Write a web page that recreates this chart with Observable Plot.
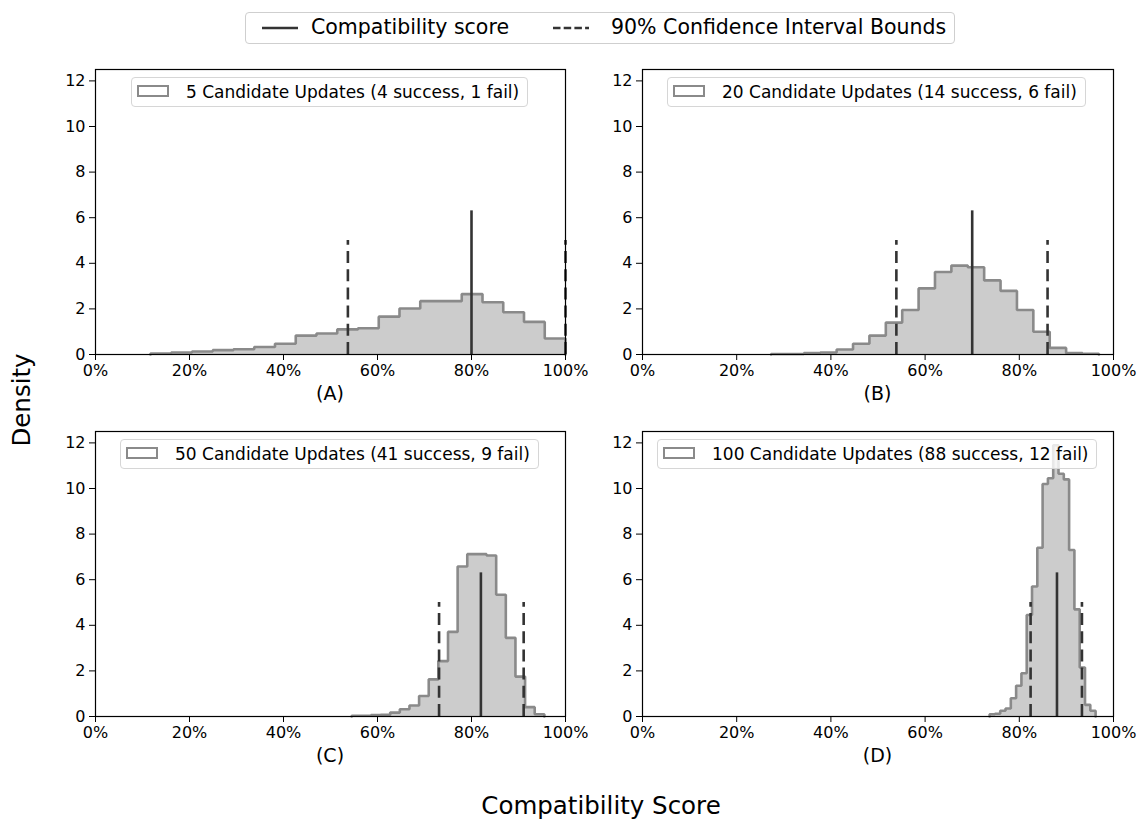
<!DOCTYPE html>
<html>
<head>
<meta charset="utf-8">
<script src="https://cdn.jsdelivr.net/npm/d3@7"></script>
<script src="https://cdn.jsdelivr.net/npm/@observablehq/plot@0.6"></script>
<style>
  body { margin: 0; background: #fff; font-family: "DejaVu Sans", sans-serif; }
  #fig { position: relative; width: 1146px; height: 820px; background: #fff; overflow: hidden; }
  .cell { position: absolute; }
  .cell svg { overflow: visible; }
  .legend-top {
    position: absolute; left: 245px; top: 12px; width: 708px; height: 30px;
    border: 1px solid #cfcfcf; border-radius: 4px; background: #fff;
    font-size: 20.5px; color: #000;
  }
  .legend-top svg { position: absolute; }
  .legend-top span { position: absolute; top: 2px; white-space: nowrap; }
  .legend-in {
    position: absolute; height: 28px; padding-right: 8px;
    border: 1px solid #d6d6d6; border-radius: 4px; background: rgba(255,255,255,0.8);
    font-size: 17px; color: #000; white-space: nowrap;
  }
  .legend-in .patch {
    position: absolute; left: 5px; top: 7px; width: 28px; height: 8px;
    border: 2.6px solid #8a8a8a; background: rgba(255,255,255,0.6);
  }
  .legend-in span { display: inline-block; margin-left: 54px; line-height: 28px; }
  .panel-label { position: absolute; font-size: 19px; transform: translate(-50%, -50%); white-space: nowrap; }
  .fig-label { position: absolute; font-size: 24.5px; white-space: nowrap; transform: translate(-50%, -50%); }
</style>
</head>
<body>
<div id="fig"></div>
<script>
// ---- data -------------------------------------------------------------
const panelNames = ["(A)", "(B)", "(C)", "(D)"];
const legendLabels = [
  "5 Candidate Updates (4 success, 1 fail)",
  "20 Candidate Updates (14 success, 6 fail)",
  "50 Candidate Updates (41 success, 9 fail)",
  "100 Candidate Updates (88 success, 12 fail)"
];
// first and last histogram bin edge (20 equal-width bins each)
const binStart = [0.117, 0.273, 0.545, 0.737];
const binEnd = [1.0, 0.969, 0.955, 0.962];
const densityA = [0.04, 0.09, 0.13, 0.19, 0.23, 0.33, 0.47, 0.83, 0.92, 1.10, 1.15, 1.66, 2.02, 2.34, 2.34, 2.65, 2.29, 1.85, 1.43, 0.70];
const densityB = [0.02, 0.02, 0.06, 0.09, 0.22, 0.47, 0.83, 1.40, 1.95, 2.90, 3.62, 3.90, 3.83, 3.25, 2.79, 1.95, 1.00, 0.29, 0.06, 0.03];
const densityC = [0.03, 0.03, 0.06, 0.07, 0.17, 0.32, 0.48, 0.90, 1.63, 2.43, 3.71, 6.58, 7.12, 7.12, 7.06, 5.34, 3.45, 1.75, 0.41, 0.10];
const densityD = [0.10, 0.12, 0.25, 0.35, 0.80, 1.35, 1.90, 4.45, 5.70, 7.40, 10.20, 10.45, 11.90, 10.65, 10.40, 7.30, 4.70, 2.15, 0.51, 0.25];
const scores = [0.80, 0.70, 0.82, 0.88];
const ciLower = [0.537, 0.539, 0.731, 0.824];
const ciUpper = [1.0, 0.860, 0.911, 0.933];
const scoreMarkerHeight = 6.3;
const ciMarkerHeight = 5;
const xTicks = [0, 0.2, 0.4, 0.6, 0.8, 1];
const yTicks = [0, 2, 4, 6, 8, 10, 12];
const yMax = 12.5;

const densities = [densityA, densityB, densityC, densityD];

// ---- layout -------------------------------------------------------------
const cells = [
  {left: 0,   top: 60,  mL: 95, mR: 8,  legendLeft: 131},
  {left: 573, top: 60,  mL: 69, mR: 33, legendLeft: 667},
  {left: 0,   top: 422, mL: 95, mR: 8,  legendLeft: 120},
  {left: 573, top: 422, mL: 69, mR: 33, legendLeft: 657}
];
const cellW = 573, cellH = 340, mTop = 9, mBottom = 46;
const dashPattern = "12,6.2";

const fig = document.getElementById("fig");

// closed step outline of a histogram (stepfilled style)
function histogramOutline(lo, hi, dens) {
  const n = dens.length, w = (hi - lo) / n;
  const pts = [{x: lo, y: 0}];
  dens.forEach((d, i) => {
    pts.push({x: lo + i * w, y: d}, {x: lo + (i + 1) * w, y: d});
  });
  pts.push({x: hi, y: 0});
  return pts;
}

cells.forEach((cell, i) => {
  const outline = histogramOutline(binStart[i], binEnd[i], densities[i]);
  const chart = Plot.plot({
    width: cellW,
    height: cellH,
    marginLeft: cell.mL,
    marginRight: cell.mR,
    marginTop: mTop,
    marginBottom: mBottom,
    x: {domain: [0, 1]},
    y: {domain: [0, yMax]},
    style: {
      fontFamily: '"DejaVu Sans", sans-serif',
      fontSize: "16px",
      color: "#000",
      background: "transparent",
      overflow: "visible"
    },
    marks: [
      // unstacked fill under the step outline
      Plot.area(outline, {x1: "x", y1: () => 0, y2: "y", fill: "#cccccc"}),
      Plot.line(outline, {x: "x", y: "y", stroke: "#8a8a8a", strokeWidth: 2.6, strokeLinejoin: "miter"}),
      Plot.ruleX([ciLower[i], ciUpper[i]], {
        x: d => d, y1: () => 0, y2: () => ciMarkerHeight,
        stroke: "#333", strokeWidth: 2.6, strokeDasharray: dashPattern
      }),
      Plot.ruleX([scores[i]], {
        x: d => d, y1: () => 0, y2: () => scoreMarkerHeight,
        stroke: "#333", strokeWidth: 2.6
      }),
      Plot.frame({stroke: "#000", strokeWidth: 1.2}),
      Plot.axisX({ticks: xTicks, tickFormat: d3.format(".0%"), tickSize: 6, tickPadding: 4, label: null}),
      Plot.axisY({ticks: yTicks, tickSize: 6, tickPadding: 4, label: null})
    ]
  });
  const holder = document.createElement("div");
  holder.className = "cell";
  holder.style.left = cell.left + "px";
  holder.style.top = cell.top + "px";
  holder.appendChild(chart);
  fig.appendChild(holder);

  // in-panel legend
  const leg = document.createElement("div");
  leg.className = "legend-in";
  leg.style.left = cell.legendLeft + "px";
  leg.style.top = (cell.top + mTop + 8) + "px";
  leg.innerHTML = `<div class="patch"></div><span>${legendLabels[i]}</span>`;
  fig.appendChild(leg);

  // panel label under the axis
  const lab = document.createElement("div");
  lab.className = "panel-label";
  lab.textContent = panelNames[i];
  lab.style.left = (cell.left + cell.mL + (cellW - cell.mL - cell.mR) / 2) + "px";
  lab.style.top = (cell.top + cellH - mBottom + 39) + "px";
  fig.appendChild(lab);
});

// shared figure legend
const figLegend = document.createElement("div");
figLegend.className = "legend-top";
figLegend.innerHTML = `
  <svg style="left:16px;top:9px" width="36" height="12"><line x1="0" y1="6" x2="36" y2="6" stroke="#333" stroke-width="2.6"/></svg>
  <span style="left:65px">Compatibility score</span>
  <svg style="left:307px;top:9px" width="36" height="12"><line x1="0" y1="6" x2="36" y2="6" stroke="#333" stroke-width="2.6" stroke-dasharray="7.5,3.2"/></svg>
  <span style="left:365px">90% Confidence Interval Bounds</span>`;
fig.appendChild(figLegend);

// shared axis titles
const xTitle = document.createElement("div");
xTitle.className = "fig-label";
xTitle.textContent = "Compatibility Score";
xTitle.style.left = "601px";
xTitle.style.top = "805px";
fig.appendChild(xTitle);

const yTitle = document.createElement("div");
yTitle.className = "fig-label";
yTitle.textContent = "Density";
yTitle.style.left = "21px";
yTitle.style.top = "400px";
yTitle.style.transform = "translate(-50%, -50%) rotate(-90deg)";
fig.appendChild(yTitle);
</script>
</body>
</html>
